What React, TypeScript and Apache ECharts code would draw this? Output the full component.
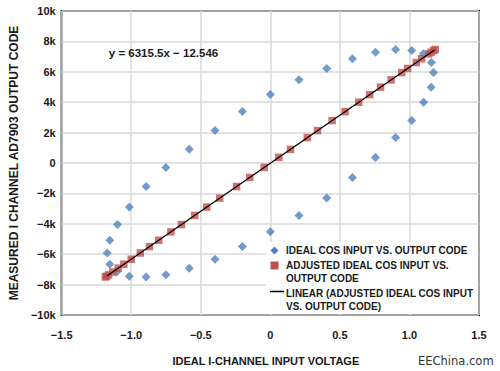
import React, { useEffect, useRef } from "react";
import * as echarts from "echarts";

// Ideal cos input (V) vs measured output code
const idealX = [
  0.0, 0.206, 0.405, 0.59, 0.756, 0.9, 1.016, 1.1, 1.158, 1.173, 1.156, 1.102,
  1.016, 0.9, 0.756, 0.59, 0.405, 0.206, 0.0, -0.201, -0.398, -0.583, -0.751,
  -0.893, -1.014, -1.105, -1.154, -1.173, -1.154, -1.099, -1.014, -0.893,
  -0.751, -0.583, -0.398, -0.201,
];
const measuredCode = [
  4500, 5470, 6220, 6860, 7290, 7470, 7400, 7180, 6610, 5950, 4990, 4000, 2790,
  1670, 370, -950, -2310, -3450, -4530, -5500, -6330, -6920, -7360, -7500,
  -7450, -7170, -6660, -5920, -5080, -4050, -2900, -1550, -290, 900, 2130, 3380,
];
// Adjusted ideal cos input (V) for the same output codes
const adjustedX = [
  0.714, 0.868, 0.987, 1.088, 1.156, 1.185, 1.174, 1.139, 1.049, 0.944, 0.792,
  0.635, 0.444, 0.266, 0.061, -0.148, -0.364, -0.544, -0.715, -0.869, -1.0,
  -1.094, -1.163, -1.186, -1.178, -1.133, -1.053, -0.935, -0.802, -0.639,
  -0.457, -0.243, -0.044, 0.145, 0.339, 0.537,
];
// Linear trend line end points
const trendX = [-1.175, 1.18];
const trendY = [-7433, 7440];

const equationText = "y = 6315.5x \u2212 12.546";
const legendLabels = [
  "IDEAL COS INPUT VS. OUTPUT CODE",
  "ADJUSTED IDEAL COS INPUT VS.\nOUTPUT CODE",
  "LINEAR (ADJUSTED IDEAL COS INPUT\nVS. OUTPUT CODE)",
];

const BLUE = "#4f81bd";
const RED = "#c0504d";
const TEXT = "#1a1a1a";
const FONT = "'Liberation Sans', Arial, sans-serif";

export default function App() {
  const ref = useRef<HTMLDivElement>(null);
  useEffect(() => {
    if (!ref.current) return;
    const chart = echarts.init(ref.current, undefined, { renderer: "svg" });
    const minus = (s: string) => s.replace("-", "\u2212");
    chart.setOption({
      animation: false,
      backgroundColor: "#fff",
      grid: {
        left: 58,
        top: 11,
        right: 21,
        bottom: 56,
        show: true,
        borderColor: "#000",
        borderWidth: 2,
      },
      xAxis: {
        type: "value",
        min: -1.5,
        max: 1.5,
        interval: 0.5,
        name: "IDEAL I-CHANNEL INPUT VOLTAGE",
        nameLocation: "middle",
        nameGap: 40,
        nameTextStyle: {
          fontFamily: FONT,
          fontWeight: "bold",
          fontSize: 11,
          color: TEXT,
          padding: [0, 9, 0, 0],
        },
        axisLine: { show: false },
        axisTick: { show: false },
        axisLabel: {
          margin: 14,
          fontFamily: FONT,
          fontWeight: "bold",
          fontSize: 11,
          color: TEXT,
          formatter: (v: number) => (v === 0 ? "0" : minus(v.toFixed(1))),
        },
        splitLine: { show: true, lineStyle: { color: "#d9d9d9", width: 1.5 } },
      },
      yAxis: {
        type: "value",
        min: -10000,
        max: 10000,
        interval: 2000,
        name: "MEASURED I CHANNEL AD7903 OUTPUT CODE",
        nameLocation: "middle",
        nameGap: 40,
        nameTextStyle: {
          fontFamily: FONT,
          fontWeight: "bold",
          fontSize: 12,
          color: TEXT,
        },
        axisLine: { show: false },
        axisTick: { show: false },
        axisLabel: {
          margin: 6,
          fontFamily: FONT,
          fontWeight: "bold",
          fontSize: 11,
          color: TEXT,
          formatter: (v: number) =>
            v === 0 ? "0" : minus(String(v / 1000)) + "k",
        },
        splitLine: { show: true, lineStyle: { color: "#d9d9d9", width: 1.5 } },
      },
      series: [
        {
          name: "IDEAL COS INPUT VS. OUTPUT CODE",
          type: "scatter",
          symbol: "diamond",
          symbolSize: 9,
          itemStyle: { color: BLUE },
          data: idealX.map((x, i) => [x, measuredCode[i]]),
          z: 2,
        },
        {
          name: "ADJUSTED IDEAL COS INPUT VS. OUTPUT CODE",
          type: "scatter",
          symbol: "rect",
          symbolSize: 7.5,
          itemStyle: { color: RED },
          data: adjustedX.map((x, i) => [x, measuredCode[i]]),
          z: 3,
        },
        {
          name: "LINEAR (ADJUSTED IDEAL COS INPUT VS. OUTPUT CODE)",
          type: "line",
          showSymbol: false,
          lineStyle: { color: "#000", width: 1.3 },
          data: trendX.map((x, i) => [x, trendY[i]]),
          z: 4,
        },
      ],
      graphic: [
        {
          type: "text",
          x: 163.5,
          y: 53,
          style: {
            text: equationText,
            fill: TEXT,
            font: `bold 11.5px ${FONT}`,
            align: "center",
            verticalAlign: "middle",
          },
          z: 10,
        },
        {
          type: "rect",
          shape: { x: 266, y: 242, width: 211, height: 72 },
          style: { fill: "#fff" },
          z: 10,
        },
        {
          type: "polygon",
          shape: {
            points: [
              [274.5, 246.5],
              [278.5, 250.5],
              [274.5, 254.5],
              [270.5, 250.5],
            ],
          },
          style: { fill: BLUE },
          z: 11,
        },
        {
          type: "text",
          x: 286,
          y: 250.7,
          style: {
            text: legendLabels[0],
            fill: TEXT,
            font: `bold 10px ${FONT}`,
            verticalAlign: "middle",
          },
          z: 11,
        },
        {
          type: "rect",
          shape: { x: 270.5, y: 261.5, width: 8, height: 8 },
          style: { fill: RED },
          z: 11,
        },
        {
          type: "text",
          x: 286,
          y: 259.2,
          style: {
            text: legendLabels[1],
            fill: TEXT,
            font: `bold 10px ${FONT}`,
            lineHeight: 13,
            verticalAlign: "top",
          },
          z: 11,
        },
        {
          type: "line",
          shape: { x1: 270, y1: 291.5, x2: 284, y2: 291.5 },
          style: { stroke: "#000", lineWidth: 1.5 },
          z: 11,
        },
        {
          type: "text",
          x: 286,
          y: 287,
          style: {
            text: legendLabels[2],
            fill: TEXT,
            font: `bold 10px ${FONT}`,
            lineHeight: 12.7,
            verticalAlign: "top",
          },
          z: 11,
        },
        {
          type: "text",
          x: 418,
          y: 361,
          style: {
            text: "EEChina.com",
            fill: "#333",
            font: `11.5px 'DejaVu Sans', sans-serif`,
            verticalAlign: "middle",
          },
          z: 11,
        },
      ],
    });
    return () => chart.dispose();
  }, []);
  return (
    <div
      ref={ref}
      style={{ position: "fixed", left: 0, top: 0, width: 500, height: 371 }}
    />
  );
}
